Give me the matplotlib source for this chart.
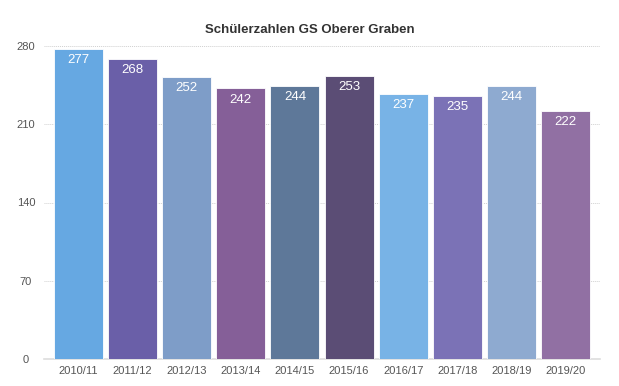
import matplotlib
matplotlib.use('Agg')
import matplotlib.pyplot as plt

plt.rcParams['font.family'] = ['Liberation Sans', 'DejaVu Sans']

# data
years = ["2010/11", "2011/12", "2012/13", "2013/14", "2014/15",
         "2015/16", "2016/17", "2017/18", "2018/19", "2019/20"]
students = [277, 268, 252, 242, 244, 253, 237, 235, 244, 222]
colors = ["#66a8e2", "#6a5fa8", "#7e9dc8", "#855f98", "#5e7899",
          "#5b4d75", "#78b3e6", "#7b72b6", "#8eaad0", "#9170a3"]
yticks = [0, 70, 140, 210, 280]

fig = plt.figure(figsize=(6.19, 3.86), dpi=100)
ax = fig.add_axes([44 / 619, 1 - 359 / 386, (600 - 44) / 619, (359 - 46) / 386])

x = range(len(years))
bars = ax.bar(x, students, width=0.905, color=colors, edgecolor="white",
              linewidth=0.6, zorder=3)
for b, v in zip(bars, students):
    ax.text(b.get_x() + b.get_width() / 2, v - 4.5, str(v), ha="center", va="top",
            color="white", fontsize=9.5, zorder=4)

ax.set_xlim(-0.64, 9.64)
ax.set_ylim(0, 280)
ax.set_yticks(yticks)
ax.set_xticks(list(x))
ax.set_xticklabels(years)
ax.tick_params(axis="both", length=0, labelsize=8, colors="#555555")
ax.tick_params(axis="x", pad=5)
ax.tick_params(axis="y", pad=13)
for lbl in ax.get_yticklabels():
    lbl.set_horizontalalignment("center")
ax.grid(axis="y", color="#d0d0d0", linestyle=(0, (1, 1)), linewidth=0.7, zorder=0)
for s in ["top", "right", "left"]:
    ax.spines[s].set_visible(False)
ax.spines["bottom"].set_color("#dddddd")
ax.spines["bottom"].set_linewidth(1.2)

fig.text(0.5, 1 - 30 / 386, "Schülerzahlen GS Oberer Graben", ha="center", va="center",
         fontsize=9.5, fontweight="bold", color="#333333")

fig.savefig("out.png", dpi=100)
